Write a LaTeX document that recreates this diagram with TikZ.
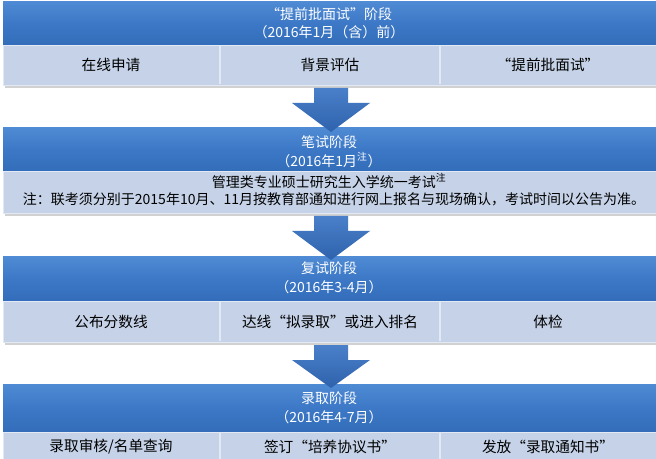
\documentclass[tikz,border=0pt]{standalone}
\usepackage{fontspec}
\setmainfont{Noto Sans CJK SC}
\usetikzlibrary{calc}
\definecolor{hdrtop}{HTML}{4F8AD4}
\definecolor{hdrmid}{HTML}{3C78C6}
\definecolor{hdrbot}{HTML}{336DBA}
\definecolor{rowc}{HTML}{C5D2E7}
\definecolor{rowline}{HTML}{E2E9F4}
\definecolor{arrtop}{HTML}{4A80C9}
\definecolor{arrbot}{HTML}{2E62AC}
\tikzset{
  hdrfill/.style={top color=hdrtop, bottom color=hdrbot, middle color=hdrmid},
  rowfill/.style={fill=rowc, draw=rowline, line width=0.6pt},
  divider/.style={draw=rowline, line width=1.2pt},
  rowshadow/.style={fill=black!18},
  hdrtext/.style={text=white, inner sep=0pt, font=\fontsize{10.5}{12}\selectfont},
  rowtext/.style={text=black, inner sep=0pt, font=\fontsize{11}{13}\selectfont},
  notetext/.style={text=black, inner sep=0pt, font=\fontsize{10.5}{12}\selectfont},
  arrowfill/.style={top color=arrtop, bottom color=arrbot}
}
\newcommand{\blkarrow}[2]{%
  \path[arrowfill] ($(#1)+(-17,0)$) -- ($(#1)+(17,0)$) -- ($(#1)+(17,15)$) -- ($(#1)+(39,15)$) -- (#2) -- ($(#1)+(-39,15)$) -- ($(#1)+(-17,15)$) -- cycle;}
\begin{document}
\begin{tikzpicture}[x=0.75pt,y=-0.75pt]
\useasboundingbox (0,0) rectangle (656,459);
\fill[white] (0,0) rectangle (656,459);

% ---------- Block 1 ----------
\fill[rowshadow] (5,85) rectangle (656,88);
\path[hdrfill] (3,2) rectangle (656,45);
\path[rowfill] (3,45) rectangle (656,85);
\draw[divider] (220,46) -- (220,84);
\draw[divider] (440,46) -- (440,84);
\node[hdrtext] (h1a) at (329,14) {“提前批面试”阶段};
\node[hdrtext] (h1b) at (329,32) {（2016年1月（含）前）};
\node[rowtext] (c11) at (111,65) {在线申请};
\node[rowtext] (c12) at (330,65) {背景评估};
\node[rowtext] (c13) at (548,65) {“提前批面试”};
\coordinate (a1s) at (331,88);

% ---------- Block 2 ----------
\fill[rowshadow] (5,213) rectangle (656,216);
\path[hdrfill] (3,128) rectangle (656,171);
\path[rowfill] (3,171) rectangle (656,213);
\node[hdrtext] (h2a) at (329,142) {笔试阶段};
\node[hdrtext] (h2b) at (329,160) {（2016年1月\textsuperscript{注}）};
\node[notetext] (c21) at (329,181) {管理类专业硕士研究生入学统一考试\textsuperscript{注}};
\node[notetext] (c22) at (334,199) {注：联考须分别于2015年10月、11月按教育部通知进行网上报名与现场确认，考试时间以公告为准。};
\coordinate (a1t) at (331,132);
\coordinate (a2s) at (331,216);

% ---------- Block 3 ----------
\fill[rowshadow] (5,342) rectangle (656,345);
\path[hdrfill] (3,257) rectangle (656,301);
\path[rowfill] (3,301) rectangle (656,342);
\draw[divider] (220,302) -- (220,341);
\draw[divider] (440,302) -- (440,341);
\node[hdrtext] (h3a) at (329,268) {复试阶段};
\node[hdrtext] (h3b) at (329,287) {（2016年3-4月）};
\node[rowtext] (c31) at (111,322) {公布分数线};
\node[rowtext] (c32) at (330,322) {达线“拟录取”或进入排名};
\node[rowtext] (c33) at (548,322) {体检};
\coordinate (a2t) at (331,260);
\coordinate (a3s) at (331,345);

% ---------- Block 4 ----------
\path[hdrfill] (3,384) rectangle (656,432);
\path[rowfill] (3,432) rectangle (656,470);
\draw[divider] (220,433) -- (220,459);
\draw[divider] (440,433) -- (440,459);
\node[hdrtext] (h4a) at (329,398) {录取阶段};
\node[hdrtext] (h4b) at (329,417) {（2016年4-7月）};
\node[rowtext] (c41) at (111,447) {录取审核/名单查询};
\node[rowtext] (c42) at (330,447) {签订“培养协议书”};
\node[rowtext] (c43) at (548,447) {发放“录取通知书”};
\coordinate (a3t) at (331,388);

% ---------- Arrows ----------
\blkarrow{a1s}{a1t}
\blkarrow{a2s}{a2t}
\blkarrow{a3s}{a3t}
\end{tikzpicture}
\end{document}
